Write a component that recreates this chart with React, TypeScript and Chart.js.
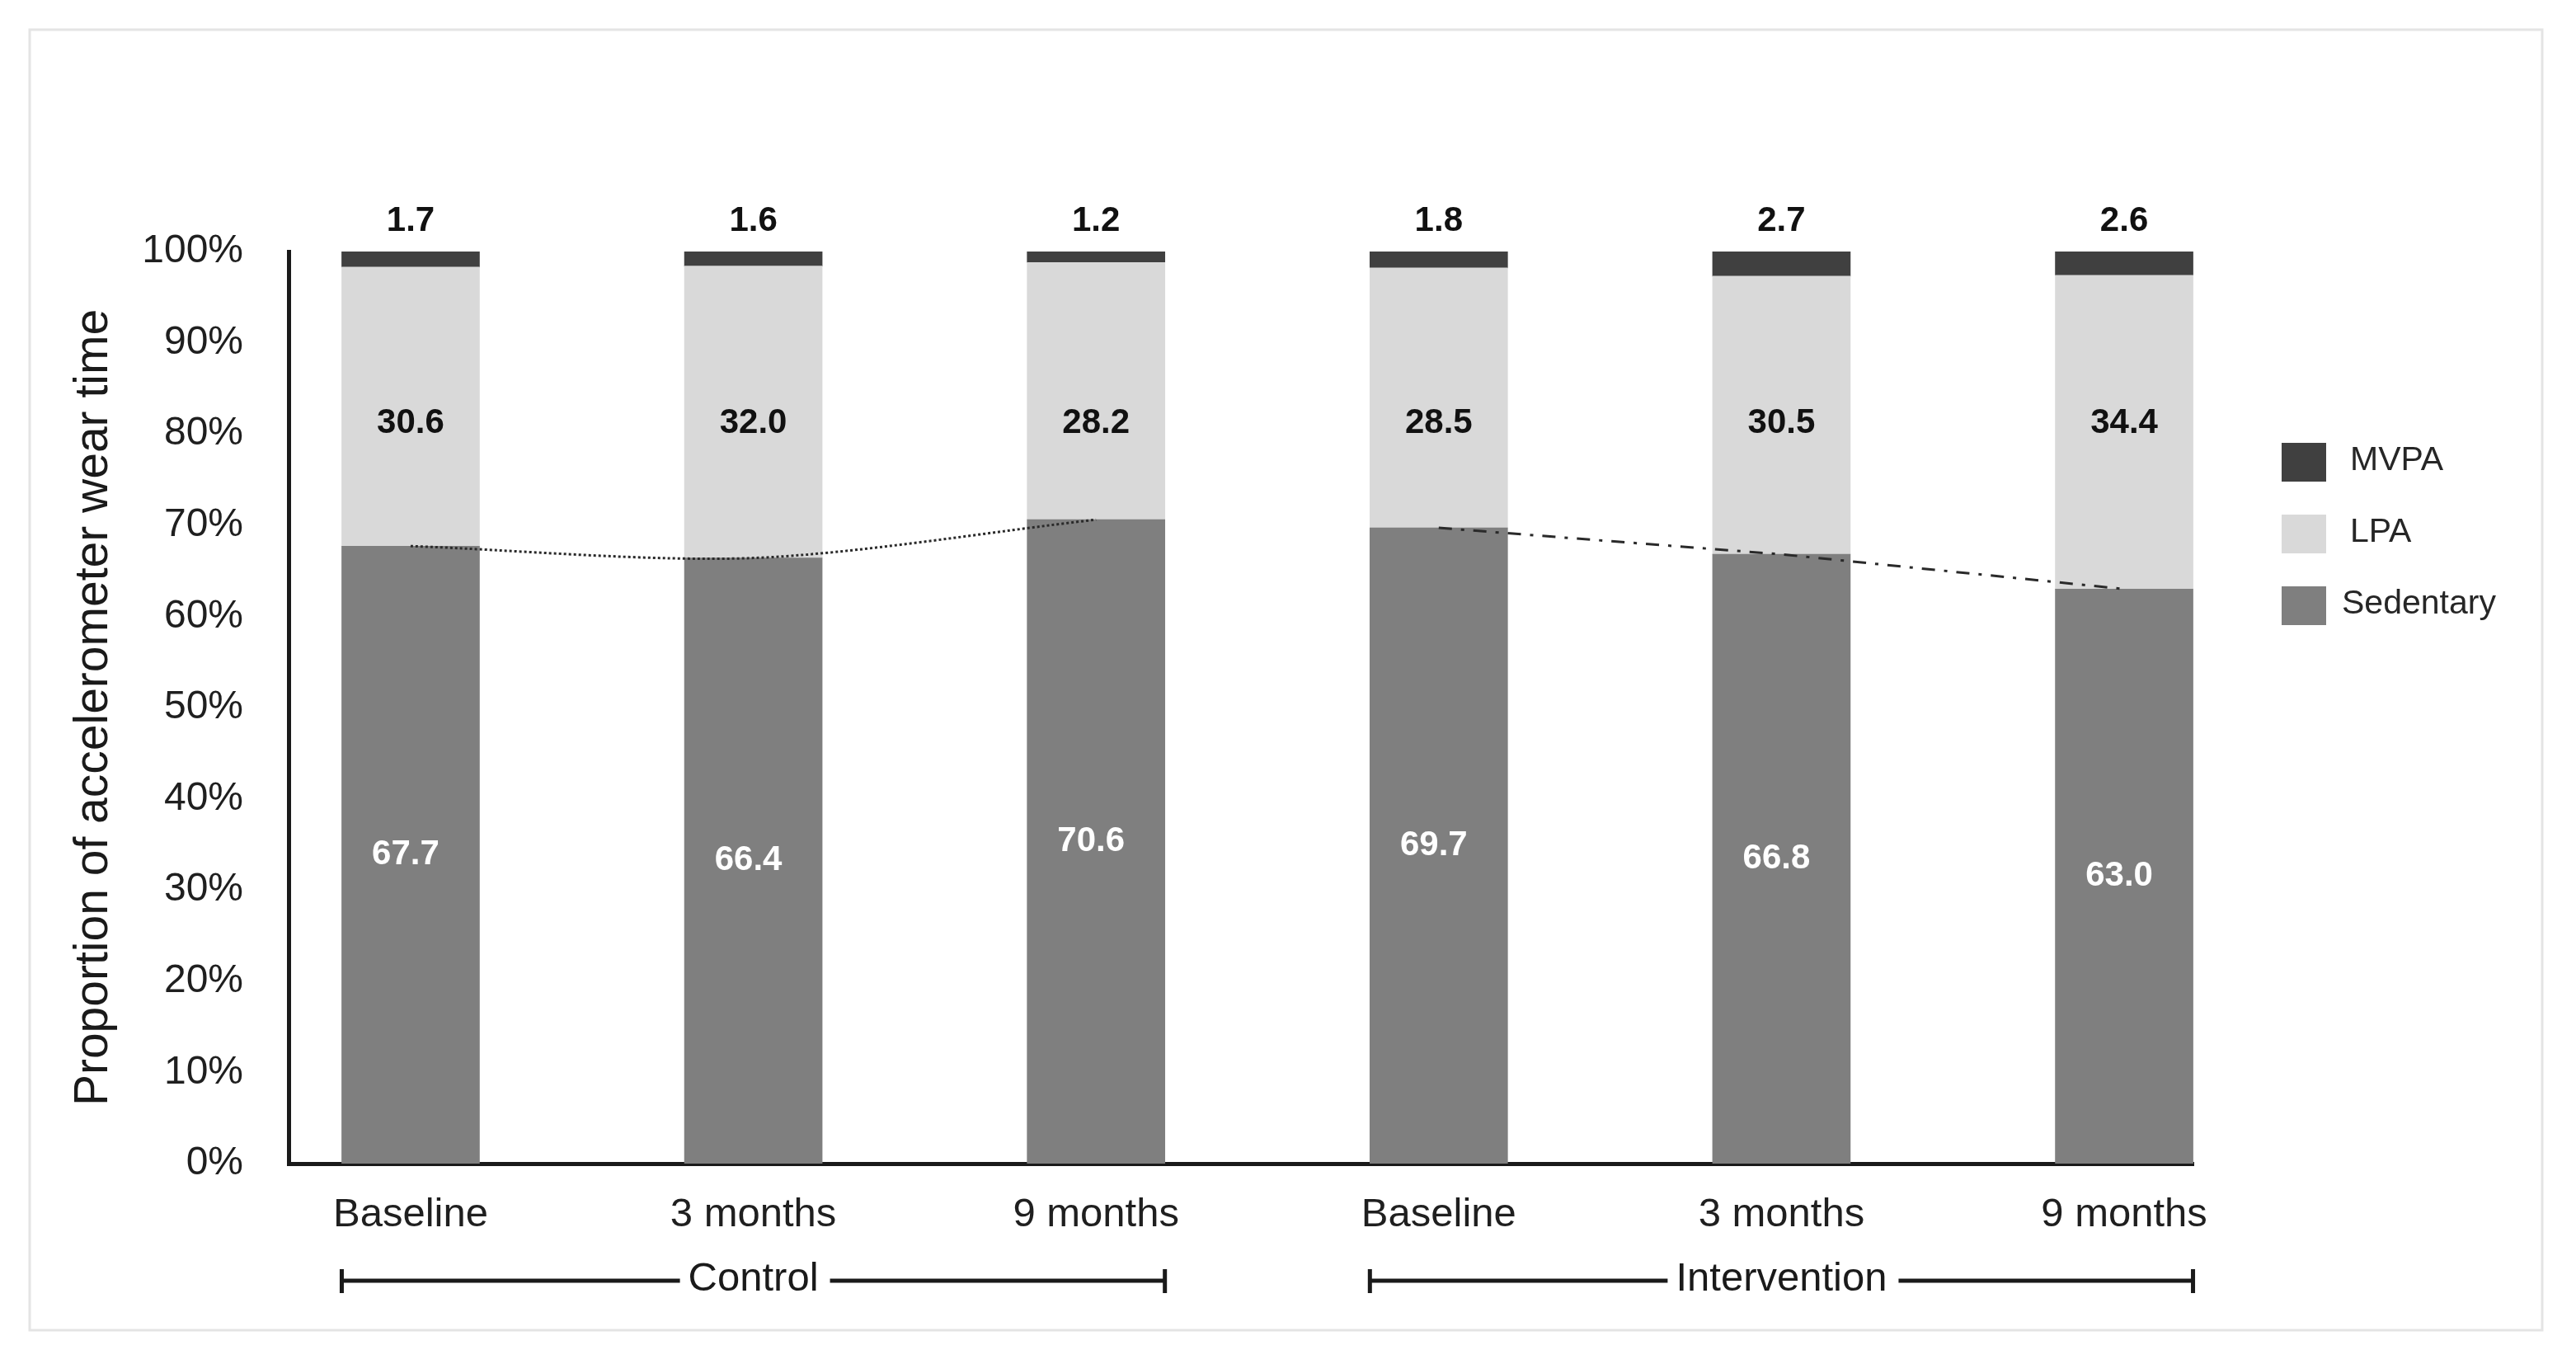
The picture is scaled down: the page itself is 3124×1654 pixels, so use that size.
import React, { useEffect, useRef } from 'react';
import { Chart, registerables } from 'chart.js';

Chart.register(...registerables);

// ---- data ----
const categories = ['Baseline', '3 months', '9 months', 'Baseline', '3 months', '9 months'];
const sedentary = [67.7, 66.4, 70.6, 69.7, 66.8, 63.0];
const lpa = [30.6, 32.0, 28.2, 28.5, 30.5, 34.4];
const mvpa = [1.7, 1.6, 1.2, 1.8, 2.7, 2.6];
const yTickValues = [0, 10, 20, 30, 40, 50, 60, 70, 80, 90, 100];
const groupNames = ['Control', 'Intervention'];
const groupStart = [0, 3];
const groupEnd = [2, 5];
const seriesNames = ['Sedentary', 'LPA', 'MVPA'];

// ---- styles ----
const FONT = '"Liberation Sans", Arial, sans-serif';
const COLORS = ['#7f7f7f', '#d9d9d9', '#404040'];
const LPA_LABEL_LEVEL = 81.2;

const framePlugin = {
  id: 'frame',
  beforeDraw(chart: any) {
    const { ctx, width, height } = chart;
    ctx.save();
    ctx.fillStyle = '#ffffff';
    ctx.fillRect(0, 0, width, height);
    ctx.strokeStyle = '#e4e4e4';
    ctx.lineWidth = 3;
    ctx.strokeRect(36, 36, 3047, 1577);
    ctx.restore();
  },
};

const labelPlugin = {
  id: 'valueLabels',
  afterDatasetsDraw(chart: any) {
    const { ctx } = chart;
    const x = chart.scales.x;
    const y = chart.scales.y;
    ctx.save();
    ctx.textAlign = 'center';
    ctx.textBaseline = 'middle';
    ctx.font = `bold 42px ${FONT}`;
    categories.forEach((_, i) => {
      const px = x.getPixelForValue(i);
      ctx.fillStyle = '#111111';
      ctx.fillText(mvpa[i].toFixed(1), px, y.getPixelForValue(100) - 37);
      ctx.fillText(lpa[i].toFixed(1), px, y.getPixelForValue(LPA_LABEL_LEVEL));
      ctx.fillStyle = '#ffffff';
      ctx.fillText(sedentary[i].toFixed(1), px - 6, y.getPixelForValue(sedentary[i] / 2));
    });
    ctx.restore();
  },
};

const legendPlugin = {
  id: 'sideLegend',
  afterDraw(chart: any) {
    const { ctx, chartArea } = chart;
    const order = [2, 1, 0];
    const boxX = chartArea.right + 107;
    const startY = 537;
    const step = 87;
    ctx.save();
    ctx.font = `41px ${FONT}`;
    ctx.textAlign = 'left';
    ctx.textBaseline = 'middle';
    order.forEach((dsIndex, k) => {
      const ds = chart.data.datasets[dsIndex];
      const top = startY + k * step;
      ctx.fillStyle = ds.backgroundColor;
      ctx.fillRect(boxX, top, 54, 47);
      ctx.fillStyle = '#262626';
      ctx.fillText(ds.label, boxX + (ds.label === 'Sedentary' ? 73 : 83), top + 22);
    });
    ctx.restore();
  },
};

const groupPlugin = {
  id: 'groupBrackets',
  afterDraw(chart: any) {
    const { ctx, chartArea } = chart;
    const x = chart.scales.x;
    const meta = chart.getDatasetMeta(0);
    const y0 = chartArea.bottom + 142;
    ctx.save();
    ctx.font = `49px ${FONT}`;
    ctx.textAlign = 'center';
    ctx.textBaseline = 'middle';
    groupNames.forEach((name, g) => {
      const half1 = meta.data[groupStart[g]].width / 2;
      const half2 = meta.data[groupEnd[g]].width / 2;
      const x1 = x.getPixelForValue(groupStart[g]) - half1;
      const x2 = x.getPixelForValue(groupEnd[g]) + half2;
      const mid = (x1 + x2) / 2;
      const tw = ctx.measureText(name).width;
      ctx.strokeStyle = '#1a1a1a';
      ctx.lineWidth = 5;
      ctx.beginPath();
      ctx.moveTo(x1, y0);
      ctx.lineTo(mid - tw / 2 - 10, y0);
      ctx.moveTo(mid + tw / 2 + 14, y0);
      ctx.lineTo(x2, y0);
      ctx.stroke();
      ctx.beginPath();
      ctx.moveTo(x1, y0 - 14);
      ctx.lineTo(x1, y0 + 15);
      ctx.moveTo(x2, y0 - 14);
      ctx.lineTo(x2, y0 + 15);
      ctx.stroke();
      ctx.fillStyle = '#1a1a1a';
      ctx.fillText(name, mid, y0 - 2);
    });
    ctx.restore();
  },
};

export default function App() {
  const canvasRef = useRef<HTMLCanvasElement | null>(null);

  useEffect(() => {
    const canvas = canvasRef.current;
    if (!canvas) return;
    const series = [sedentary, lpa, mvpa];
    const barSets = series.map((vals, s) => ({
      type: 'bar' as const,
      label: seriesNames[s],
      data: vals.map((v, i) => ({ x: i, y: v })),
      backgroundColor: COLORS[s],
      borderWidth: 0,
      barThickness: 167,
      order: 1,
    }));
    const controlLine = {
      type: 'line' as const,
      label: 'control-trend',
      data: sedentary.slice(0, 3).map((v, i) => ({ x: i, y: v })),
      borderColor: '#2a2a2a',
      borderWidth: 3,
      borderDash: [3, 3],
      pointRadius: 0,
      tension: 0.3,
      fill: false,
      stack: 'control',
      order: 0,
    };
    const interventionLine = {
      type: 'line' as const,
      label: 'intervention-trend',
      data: sedentary.slice(3).map((v, i) => ({ x: i + 3, y: v })),
      borderColor: '#2a2a2a',
      borderWidth: 3,
      borderDash: [16, 11, 4, 11],
      pointRadius: 0,
      tension: 0,
      fill: false,
      stack: 'intervention',
      order: 0,
    };

    const chart = new Chart(canvas, {
      type: 'bar',
      data: { datasets: [...barSets, controlLine, interventionLine] as any },
      options: {
        responsive: false,
        animation: false,
        devicePixelRatio: 1,
        layout: { padding: { top: 305, left: 0, right: 464, bottom: 0 } },
        plugins: {
          legend: { display: false },
          tooltip: { enabled: false },
        },
        scales: {
          x: {
            type: 'linear',
            stacked: true,
            min: -0.356,
            max: 5.202,
            offset: false,
            z: 1,
            grid: { display: false, drawTicks: false },
            border: { display: true, color: '#1a1a1a', width: 5 },
            afterBuildTicks: (scale: any) => {
              scale.ticks = categories.map((_, i) => ({ value: i }));
            },
            afterFit: (scale: any) => {
              scale.height = 243;
            },
            ticks: {
              autoSkip: false,
              maxRotation: 0,
              padding: 33,
              color: '#1f1f1f',
              font: { family: FONT, size: 49 },
              callback: (v: any) => categories[Math.round(Number(v))],
            },
          },
          y: {
            stacked: true,
            min: 0,
            max: 100,
            z: 1,
            grid: { display: false, drawTicks: false },
            border: { display: true, color: '#1a1a1a', width: 5 },
            afterBuildTicks: (scale: any) => {
              scale.ticks = yTickValues.map((v) => ({ value: v }));
            },
            afterFit: (scale: any) => {
              scale.width = 350;
            },
            ticks: {
              padding: 55,
              color: '#1f1f1f',
              font: { family: FONT, size: 48 },
              callback: (v: any) => `${v}%`,
            },
            title: {
              display: true,
              text: 'Proportion of accelerometer wear time',
              color: '#1a1a1a',
              font: { family: FONT, size: 57 },
              padding: { top: 80, bottom: 0 },
            },
          },
        },
      },
      plugins: [framePlugin, labelPlugin, legendPlugin, groupPlugin],
    });

    return () => chart.destroy();
  }, []);

  return (
    <div style={{ position: 'absolute', left: 0, top: 0, width: 3124, height: 1654, background: '#fff' }}>
      <canvas ref={canvasRef} width={3124} height={1654} style={{ display: 'block' }} />
    </div>
  );
}
